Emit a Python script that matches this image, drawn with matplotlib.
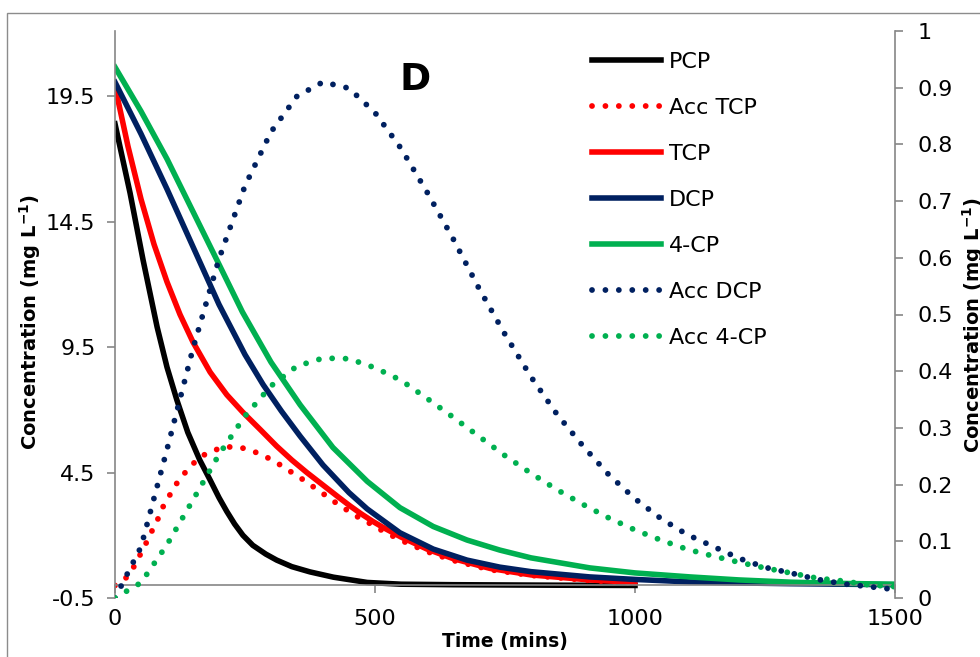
import matplotlib
matplotlib.use('Agg')
import matplotlib.pyplot as plt
from matplotlib.patches import Rectangle
from matplotlib.ticker import FormatStrFormatter, FuncFormatter

plt.rcParams['font.family'] = ['DejaVu Sans']
plt.rcParams['mathtext.fontset'] = 'dejavusans'

# 左轴：PCP -> TCP -> DCP -> 4-CP 的浓度 (mg/L)
t_pcp = [0, 29, 54, 81, 100, 119, 140, 163, 183, 200, 215, 230, 246, 265, 290, 311, 340, 375, 420, 485, 550, 650, 750, 850, 1000]
pcp = [18.4, 15.64, 12.97, 10.3, 8.7, 7.39, 6.1, 5.0, 4.2, 3.5, 2.95, 2.45, 2.0, 1.6, 1.25, 1.01, 0.75, 0.54, 0.33, 0.12, 0.05, 0.03, 0.02, 0.01, 0.0]

t_tcp = [0, 25, 50, 75, 100, 125, 150, 183, 215, 246, 280, 311, 340, 369, 400, 431, 452, 473, 496, 515, 550, 600, 650, 721, 800, 913, 1000]
tcp = [19.9, 17.5, 15.4, 13.6, 12.1, 10.8, 9.7, 8.5, 7.6, 6.9, 6.2, 5.55, 5.0, 4.5, 4.0, 3.5, 3.17, 2.86, 2.55, 2.32, 1.93, 1.45, 1.07, 0.68, 0.42, 0.22, 0.12]

t_acc_tcp = [0, 21, 35, 46, 58, 69, 81, 90, 102, 115, 129, 146, 163, 187, 210, 237, 260, 283, 306, 327, 348, 369,
             390, 410, 431, 452, 473, 496, 515, 550, 600, 650, 721, 800, 913, 1000]
acc_tcp = [0.0, 0.3, 0.7, 1.13, 1.61, 2.09, 2.57, 3.05, 3.48, 3.96, 4.36, 4.76, 5.12, 5.36, 5.52, 5.52, 5.4, 5.2, 4.96, 4.68, 4.4, 4.12,
           3.8, 3.52, 3.2, 2.93, 2.65, 2.41, 2.17, 1.8, 1.35, 1.0, 0.63, 0.4, 0.2, 0.1]

t_dcp = [0, 50, 100, 150, 200, 250, 285, 320, 356, 400, 450, 485, 548, 612, 677, 740, 800, 913, 1000, 1106, 1200, 1300, 1400, 1500]
dcp = [20.06, 18.0, 15.8, 13.5, 11.2, 9.2, 8.0, 6.95, 5.95, 4.8, 3.7, 3.05, 2.1, 1.45, 1.01, 0.73, 0.55, 0.34, 0.24, 0.14, 0.1, 0.07, 0.05, 0.03]

t_4cp = [0, 50, 100, 150, 200, 245, 300, 356, 419, 485, 548, 612, 677, 740, 800, 913, 1000, 1106, 1200, 1300, 1400, 1500]
four_cp = [20.66, 18.9, 17.0, 14.9, 12.8, 10.9, 8.9, 7.2, 5.5, 4.15, 3.1, 2.35, 1.81, 1.41, 1.1, 0.7, 0.5, 0.34, 0.22, 0.13, 0.08, 0.05]

# 右轴：中间产物累积量
t_acc = [0, 50, 100, 150, 200, 250, 300, 350, 400, 450, 500, 550, 600, 650, 700, 750,
         800, 850, 900, 950, 1000, 1050, 1100, 1150, 1200, 1250, 1300, 1350, 1400, 1450, 1500]
acc_dcp = [0.0, 0.09, 0.262, 0.44, 0.598, 0.727, 0.822, 0.885, 0.91, 0.899, 0.856, 0.793, 0.716, 0.634, 0.546, 0.465,
           0.39, 0.324, 0.268, 0.217, 0.175, 0.14, 0.112, 0.091, 0.07, 0.054, 0.044, 0.033, 0.025, 0.02, 0.015]
acc_4cp = [0.0, 0.027, 0.094, 0.173, 0.253, 0.321, 0.374, 0.409, 0.423, 0.422, 0.406, 0.384, 0.352, 0.319, 0.285, 0.251,
           0.22, 0.191, 0.165, 0.141, 0.12, 0.102, 0.086, 0.074, 0.063, 0.053, 0.044, 0.035, 0.03, 0.023, 0.02]

left_ticks = [-0.5, 4.5, 9.5, 14.5, 19.5]
right_ticks = [0, 0.1, 0.2, 0.3, 0.4, 0.5, 0.6, 0.7, 0.8, 0.9, 1.0]
x_ticks = [0, 500, 1000, 1500]

BLACK, RED, NAVY, GREEN = '#000000', '#FF0000', '#002060', '#00B050'
GRID = '#868686'
LW = 4.0
DOT = dict(linestyle=(0, (0.001, 2.3)), dash_capstyle='round', linewidth=4.2)

fig = plt.figure(figsize=(9.8, 6.57), dpi=100)
ax = fig.add_axes([115 / 980, 1 - 598 / 657, 780 / 980, 567 / 657])
ax2 = ax.twinx()

l1, = ax.plot(t_pcp, pcp, color=BLACK, lw=LW, label='PCP')
l2, = ax.plot(t_acc_tcp, acc_tcp, color=RED, label='Acc TCP', **DOT)
l3, = ax.plot(t_tcp, tcp, color=RED, lw=LW, label='TCP')
l4, = ax.plot(t_dcp, dcp, color=NAVY, lw=LW, label='DCP')
l5, = ax.plot(t_4cp, four_cp, color=GREEN, lw=LW, label='4-CP')
l6, = ax2.plot(t_acc, acc_dcp, color=NAVY, label='Acc DCP', **DOT)
l7, = ax2.plot(t_acc, acc_4cp, color=GREEN, label='Acc 4-CP', **DOT)

ax.set_xlim(0, 1500)
ax.set_ylim(-0.5, 22.1)
ax2.set_ylim(0, 1.0)

ax.set_xticks(x_ticks)
ax.set_yticks(left_ticks)
ax.yaxis.set_major_formatter(FormatStrFormatter('%.1f'))
ax2.set_yticks(right_ticks)
ax2.yaxis.set_major_formatter(FuncFormatter(lambda v, p: '%g' % v))

for s in ['top', 'right']:
    ax.spines[s].set_visible(False)
for s in ['top', 'left', 'bottom']:
    ax2.spines[s].set_visible(False)
ax.spines['bottom'].set_position(('data', 0))
for sp in [ax.spines['left'], ax.spines['bottom'], ax2.spines['right']]:
    sp.set_color(GRID)
    sp.set_linewidth(1.2)

ax.tick_params(axis='x', direction='out', length=6, width=1.2, color=GRID, labelsize=16, pad=11)
ax.tick_params(axis='y', direction='out', length=6, width=1.2, color=GRID, labelsize=16, pad=8)
ax2.tick_params(axis='y', direction='out', length=6, width=1.2, color=GRID, labelsize=16, pad=10)

ylab = 'Concentration (mg L$^{\\mathbf{-1}}$)'
fig.text(30 / 980, 1 - 322 / 657, ylab, rotation=90, ha='center', va='center',
         fontsize=14, fontweight='bold')
fig.text(973 / 980, 1 - 325 / 657, ylab, rotation=90, ha='center', va='center',
         fontsize=14, fontweight='bold')
fig.text(505 / 980, 1 - 642 / 657, 'Time (mins)', ha='center', va='center',
         fontsize=13.5, fontweight='bold')
fig.text(415 / 980, 1 - 80 / 657, 'D', ha='center', va='center', fontsize=27, fontweight='bold')

ax2.legend(handles=[l1, l2, l3, l4, l5, l6, l7], loc='upper left',
           bbox_to_anchor=(592 / 980, 1 - 52 / 657), bbox_transform=fig.transFigure,
           frameon=False, fontsize=16, handlelength=3.1, handletextpad=0.35,
           labelspacing=1.17, borderpad=0, borderaxespad=0)

# 图表外框
fig.patches.append(Rectangle((7 / 980, -0.05), 1.0, 1 - 13 / 657 + 0.05, transform=fig.transFigure,
                             fill=False, edgecolor='#8C8C8C', linewidth=1.0))

fig.savefig('out.png', dpi=100)
